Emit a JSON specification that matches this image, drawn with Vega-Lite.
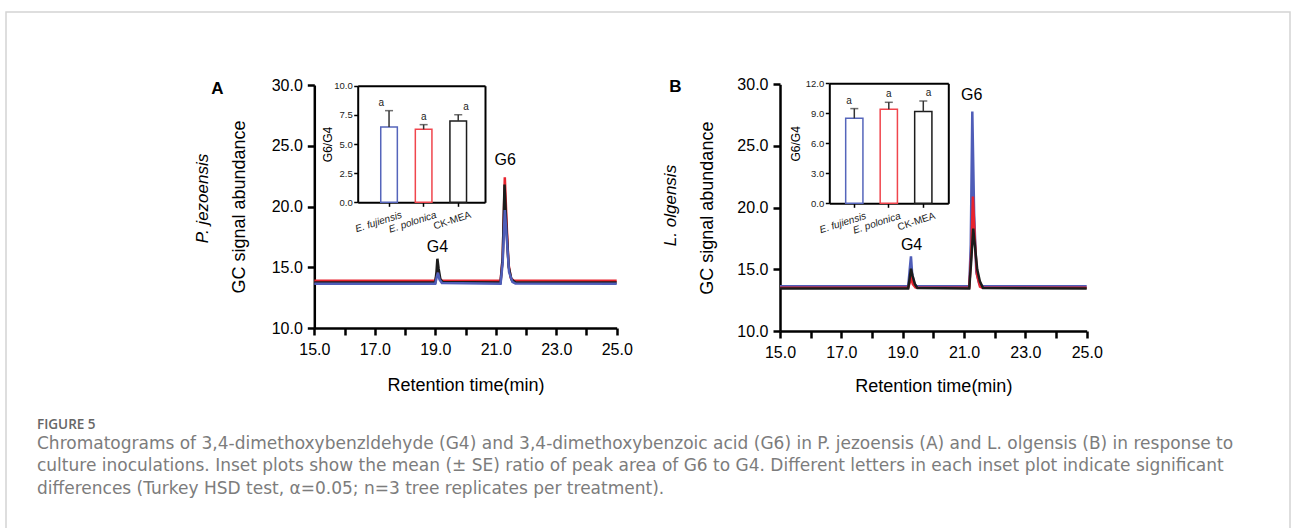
{
  "$schema": "https://vega.github.io/schema/vega-lite/v6.json",
  "width": 1284,
  "height": 530,
  "autosize": {"type": "none"},
  "padding": {"left": 6, "top": 12, "right": 2, "bottom": 0},
  "config": {
    "font": "Liberation Sans",
    "view": {"stroke": "#d4d4d4", "strokeWidth": 1.5},
    "axis": {"grid": false, "labelColor": "#000", "titleColor": "#000", "domainColor": "#000", "tickColor": "#000", "titleFontWeight": "normal", "labelFlush": false, "labelOverlap": false, "titleFont": "Liberation Sans", "labelFont": "Liberation Sans"}
  },
  "title": {
    "text": "FIGURE 5",
    "subtitle": [
      "Chromatograms of 3,4-dimethoxybenzldehyde (G4) and 3,4-dimethoxybenzoic acid (G6) in P. jezoensis (A) and L. olgensis (B) in response to",
      "culture inoculations. Inset plots show the mean (± SE) ratio of peak area of G6 to G4. Different letters in each inset plot indicate significant",
      "differences (Turkey HSD test, α=0.05; n=3 tree replicates per treatment)."
    ],
    "orient": "bottom", "anchor": "start", "frame": "group", "offset": -124, "dx": 31,
    "font": "Open Sans", "fontSize": 13.5, "fontWeight": 600, "color": "#666",
    "subtitleFont": "DejaVu Sans", "subtitleFontSize": 17, "subtitleColor": "#7c7c7c", "subtitleLineHeight": 22.5, "subtitlePadding": 4
  },
  "datasets": {
    "chrom": [
      {"panel": "A", "treatment": "E. polonica", "time": 15.0, "signal": 13.88},
      {"panel": "A", "treatment": "E. polonica", "time": 19.0, "signal": 13.88},
      {"panel": "A", "treatment": "E. polonica", "time": 19.04, "signal": 14.3},
      {"panel": "A", "treatment": "E. polonica", "time": 19.08, "signal": 14.75},
      {"panel": "A", "treatment": "E. polonica", "time": 19.12, "signal": 14.2},
      {"panel": "A", "treatment": "E. polonica", "time": 19.2, "signal": 13.9},
      {"panel": "A", "treatment": "E. polonica", "time": 21.16, "signal": 13.88},
      {"panel": "A", "treatment": "E. polonica", "time": 21.23, "signal": 15.8},
      {"panel": "A", "treatment": "E. polonica", "time": 21.3, "signal": 22.4},
      {"panel": "A", "treatment": "E. polonica", "time": 21.36, "signal": 18.6},
      {"panel": "A", "treatment": "E. polonica", "time": 21.42, "signal": 15.3},
      {"panel": "A", "treatment": "E. polonica", "time": 21.5, "signal": 14.1},
      {"panel": "A", "treatment": "E. polonica", "time": 21.6, "signal": 13.9},
      {"panel": "A", "treatment": "E. polonica", "time": 25.0, "signal": 13.88},
      {"panel": "A", "treatment": "CK-MEA", "time": 15.0, "signal": 13.75},
      {"panel": "A", "treatment": "CK-MEA", "time": 19.0, "signal": 13.75},
      {"panel": "A", "treatment": "CK-MEA", "time": 19.04, "signal": 14.6},
      {"panel": "A", "treatment": "CK-MEA", "time": 19.07, "signal": 15.7},
      {"panel": "A", "treatment": "CK-MEA", "time": 19.11, "signal": 14.9},
      {"panel": "A", "treatment": "CK-MEA", "time": 19.17, "signal": 14.0},
      {"panel": "A", "treatment": "CK-MEA", "time": 19.25, "signal": 13.78},
      {"panel": "A", "treatment": "CK-MEA", "time": 21.16, "signal": 13.75},
      {"panel": "A", "treatment": "CK-MEA", "time": 21.23, "signal": 15.8},
      {"panel": "A", "treatment": "CK-MEA", "time": 21.29, "signal": 21.8},
      {"panel": "A", "treatment": "CK-MEA", "time": 21.36, "signal": 18.0},
      {"panel": "A", "treatment": "CK-MEA", "time": 21.43, "signal": 15.0},
      {"panel": "A", "treatment": "CK-MEA", "time": 21.52, "signal": 14.0},
      {"panel": "A", "treatment": "CK-MEA", "time": 21.65, "signal": 13.77},
      {"panel": "A", "treatment": "CK-MEA", "time": 25.0, "signal": 13.75},
      {"panel": "A", "treatment": "E. fujiensis", "time": 15.0, "signal": 13.65},
      {"panel": "A", "treatment": "E. fujiensis", "time": 19.0, "signal": 13.65},
      {"panel": "A", "treatment": "E. fujiensis", "time": 19.05, "signal": 14.2},
      {"panel": "A", "treatment": "E. fujiensis", "time": 19.09, "signal": 14.55},
      {"panel": "A", "treatment": "E. fujiensis", "time": 19.14, "signal": 14.0},
      {"panel": "A", "treatment": "E. fujiensis", "time": 19.22, "signal": 13.7},
      {"panel": "A", "treatment": "E. fujiensis", "time": 21.16, "signal": 13.65},
      {"panel": "A", "treatment": "E. fujiensis", "time": 21.23, "signal": 15.4},
      {"panel": "A", "treatment": "E. fujiensis", "time": 21.3, "signal": 19.7},
      {"panel": "A", "treatment": "E. fujiensis", "time": 21.37, "signal": 17.2},
      {"panel": "A", "treatment": "E. fujiensis", "time": 21.44, "signal": 14.6},
      {"panel": "A", "treatment": "E. fujiensis", "time": 21.55, "signal": 13.8},
      {"panel": "A", "treatment": "E. fujiensis", "time": 21.65, "signal": 13.66},
      {"panel": "A", "treatment": "E. fujiensis", "time": 25.0, "signal": 13.65},
      {"panel": "B", "treatment": "E. fujiensis", "time": 15.0, "signal": 13.62},
      {"panel": "B", "treatment": "E. fujiensis", "time": 19.18, "signal": 13.62},
      {"panel": "B", "treatment": "E. fujiensis", "time": 19.23, "signal": 15.0},
      {"panel": "B", "treatment": "E. fujiensis", "time": 19.27, "signal": 16.05},
      {"panel": "B", "treatment": "E. fujiensis", "time": 19.31, "signal": 14.6},
      {"panel": "B", "treatment": "E. fujiensis", "time": 19.38, "signal": 13.8},
      {"panel": "B", "treatment": "E. fujiensis", "time": 19.46, "signal": 13.64},
      {"panel": "B", "treatment": "E. fujiensis", "time": 21.17, "signal": 13.62},
      {"panel": "B", "treatment": "E. fujiensis", "time": 21.22, "signal": 17.0},
      {"panel": "B", "treatment": "E. fujiensis", "time": 21.27, "signal": 27.8},
      {"panel": "B", "treatment": "E. fujiensis", "time": 21.33, "signal": 19.5},
      {"panel": "B", "treatment": "E. fujiensis", "time": 21.4, "signal": 14.8},
      {"panel": "B", "treatment": "E. fujiensis", "time": 21.5, "signal": 13.8},
      {"panel": "B", "treatment": "E. fujiensis", "time": 21.6, "signal": 13.64},
      {"panel": "B", "treatment": "E. fujiensis", "time": 25.0, "signal": 13.62},
      {"panel": "B", "treatment": "E. polonica", "time": 15.0, "signal": 13.5},
      {"panel": "B", "treatment": "E. polonica", "time": 19.18, "signal": 13.5},
      {"panel": "B", "treatment": "E. polonica", "time": 19.24, "signal": 14.0},
      {"panel": "B", "treatment": "E. polonica", "time": 19.28, "signal": 14.3},
      {"panel": "B", "treatment": "E. polonica", "time": 19.33, "signal": 13.8},
      {"panel": "B", "treatment": "E. polonica", "time": 19.42, "signal": 13.52},
      {"panel": "B", "treatment": "E. polonica", "time": 21.17, "signal": 13.5},
      {"panel": "B", "treatment": "E. polonica", "time": 21.23, "signal": 16.0},
      {"panel": "B", "treatment": "E. polonica", "time": 21.29, "signal": 20.9},
      {"panel": "B", "treatment": "E. polonica", "time": 21.35, "signal": 17.5},
      {"panel": "B", "treatment": "E. polonica", "time": 21.42, "signal": 14.6},
      {"panel": "B", "treatment": "E. polonica", "time": 21.52, "signal": 13.6},
      {"panel": "B", "treatment": "E. polonica", "time": 21.6, "signal": 13.5},
      {"panel": "B", "treatment": "E. polonica", "time": 25.0, "signal": 13.5},
      {"panel": "B", "treatment": "CK-MEA", "time": 15.0, "signal": 13.45},
      {"panel": "B", "treatment": "CK-MEA", "time": 19.18, "signal": 13.45},
      {"panel": "B", "treatment": "CK-MEA", "time": 19.23, "signal": 14.3},
      {"panel": "B", "treatment": "CK-MEA", "time": 19.27, "signal": 15.05},
      {"panel": "B", "treatment": "CK-MEA", "time": 19.32, "signal": 14.5},
      {"panel": "B", "treatment": "CK-MEA", "time": 19.4, "signal": 13.8},
      {"panel": "B", "treatment": "CK-MEA", "time": 19.48, "signal": 13.48},
      {"panel": "B", "treatment": "CK-MEA", "time": 21.17, "signal": 13.45},
      {"panel": "B", "treatment": "CK-MEA", "time": 21.23, "signal": 15.5},
      {"panel": "B", "treatment": "CK-MEA", "time": 21.3, "signal": 18.3},
      {"panel": "B", "treatment": "CK-MEA", "time": 21.36, "signal": 16.8},
      {"panel": "B", "treatment": "CK-MEA", "time": 21.43, "signal": 15.0},
      {"panel": "B", "treatment": "CK-MEA", "time": 21.52, "signal": 14.0},
      {"panel": "B", "treatment": "CK-MEA", "time": 21.62, "signal": 13.48},
      {"panel": "B", "treatment": "CK-MEA", "time": 25.0, "signal": 13.45}
    ],
    "peaks": [
      {"panel": "A", "peak": "G4", "time": 19.07, "signal": 16.7},
      {"panel": "A", "peak": "G6", "time": 21.31, "signal": 23.8},
      {"panel": "B", "peak": "G4", "time": 19.29, "signal": 17.0},
      {"panel": "B", "peak": "G6", "time": 21.25, "signal": 29.1}
    ],
    "ratio": [
      {"panel": "A", "treatment": "E. fujiensis", "mean": 6.45, "upper": 7.86, "letter": "a"},
      {"panel": "A", "treatment": "E. polonica", "mean": 6.26, "upper": 6.66, "letter": "a"},
      {"panel": "A", "treatment": "CK-MEA", "mean": 6.97, "upper": 7.51, "letter": "a"},
      {"panel": "B", "treatment": "E. fujiensis", "mean": 8.5, "upper": 9.47, "letter": "a"},
      {"panel": "B", "treatment": "E. polonica", "mean": 9.4, "upper": 10.1, "letter": "a"},
      {"panel": "B", "treatment": "CK-MEA", "mean": 9.17, "upper": 10.23, "letter": "a"}
    ]
  },
  "layer": [
    {
      "data": {"name": "chrom"},
      "transform": [{"filter": "datum.panel === 'A' && datum.treatment === 'E. polonica'"}],
      "mark": {"type": "line", "strokeWidth": 2.5},
      "encoding": {
        "x": {"field": "time", "type": "quantitative",
          "scale": {"domain": [15, 25], "range": [308.3, 610.7], "nice": false, "zero": false},
          "axis": {"orient": "bottom", "offset": -214, "values": [15, 16, 17, 18, 19, 20, 21, 22, 23, 24, 25],
            "labelExpr": "datum.value % 2 === 1 ? format(datum.value, '.1f') : ''",
            "labelFontSize": 16, "tickSize": 7, "tickWidth": 2.5, "domainWidth": 2.5, "labelPadding": 6,
            "title": "Retention time(min)", "titleFontSize": 18, "titleY": 57, "titleBaseline": "middle"}},
        "y": {"field": "signal", "type": "quantitative",
          "scale": {"domain": [10, 30], "range": [316, 73], "nice": false, "zero": false},
          "axis": {"orient": "left", "offset": -308.3, "values": [10, 15, 20, 25, 30], "format": ".1f",
            "labelFontSize": 16, "tickSize": 7, "tickWidth": 2.5, "domainWidth": 2.5, "labelPadding": 5,
            "title": "GC signal abundance", "titleFontSize": 18, "titleX": -75, "titleBaseline": "middle"}},
        "color": {"field": "treatment", "type": "nominal", "legend": null,
          "scale": {"domain": ["E. fujiensis", "E. polonica", "CK-MEA"], "range": ["#4f5db8", "#e8232e", "#1c1c1c"]}}
      }
    },
    {
      "data": {"name": "chrom"},
      "transform": [{"filter": "datum.panel === 'A' && datum.treatment === 'CK-MEA'"}],
      "mark": {"type": "line", "strokeWidth": 2.5},
      "encoding": {
        "x": {"field": "time", "type": "quantitative", "axis": null,
          "scale": {"domain": [15, 25], "range": [308.3, 610.7], "nice": false, "zero": false}},
        "y": {"field": "signal", "type": "quantitative", "axis": null,
          "scale": {"domain": [10, 30], "range": [316, 73], "nice": false, "zero": false}},
        "color": {"field": "treatment", "type": "nominal", "legend": null}
      }
    },
    {
      "data": {"name": "chrom"},
      "transform": [{"filter": "datum.panel === 'A' && datum.treatment === 'E. fujiensis'"}],
      "mark": {"type": "line", "strokeWidth": 2.5},
      "encoding": {
        "x": {"field": "time", "type": "quantitative", "axis": null,
          "scale": {"domain": [15, 25], "range": [308.3, 610.7], "nice": false, "zero": false}},
        "y": {"field": "signal", "type": "quantitative", "axis": null,
          "scale": {"domain": [10, 30], "range": [316, 73], "nice": false, "zero": false}},
        "color": {"field": "treatment", "type": "nominal", "legend": null}
      }
    },
    {
      "data": {"name": "peaks"},
      "transform": [{"filter": "datum.panel === 'A'"}],
      "mark": {"type": "text", "fontSize": 16, "baseline": "middle", "align": "center", "color": "#000"},
      "encoding": {
        "x": {"field": "time", "type": "quantitative",
          "scale": {"domain": [15, 25], "range": [308.3, 610.7], "nice": false, "zero": false},
          "axis": {"orient": "top", "offset": 0, "domain": false, "ticks": false, "labels": false,
            "title": "A", "titleFontSize": 17, "titleFontWeight": "bold", "titleX": 211, "titleY": 76,
            "titleBaseline": "middle", "titleAlign": "center", "titleAngle": 0}},
        "y": {"field": "signal", "type": "quantitative",
          "scale": {"domain": [10, 30], "range": [316, 73], "nice": false, "zero": false},
          "axis": {"orient": "left", "offset": -308.3, "domain": false, "ticks": false, "labels": false,
            "title": "P. jezoensis", "titleFontStyle": "italic", "titleFontSize": 17, "titleX": -111.3, "titleY": 186,
            "titleBaseline": "middle", "titleAlign": "center"}},
        "text": {"field": "peak"}
      }
    },
    {
      "data": {"name": "ratio"},
      "transform": [{"filter": "datum.panel === 'A'"}],
      "mark": {"type": "bar", "fill": "white", "strokeWidth": 1.5},
      "encoding": {
        "x": {"field": "treatment", "type": "nominal", "sort": null,
          "scale": {"domain": ["E. fujiensis", "E. polonica", "CK-MEA"], "range": [351.7, 479], "paddingInner": 0.52, "paddingOuter": 0.6, "align": 0.555},
          "axis": {"orient": "bottom", "offset": -339.7, "title": null, "labelAngle": -18, "labelFontSize": 10, "labelOffset": 11,
            "labelFontStyle": {"condition": {"test": "datum.value === 'CK-MEA'", "value": "normal"}, "value": "italic"},
            "tickSize": 4, "tickWidth": 1.5, "domainWidth": 2, "labelPadding": 3, "labelColor": "#222"}},
        "y": {"field": "mean", "type": "quantitative",
          "scale": {"domain": [0, 10], "range": [190.3, 73.7], "nice": false, "zero": true},
          "axis": {"orient": "left", "offset": -351.7, "values": [0, 2.5, 5, 7.5, 10], "format": ".1f",
            "labelFontSize": 9.5, "tickSize": 4, "tickWidth": 1.5, "domainWidth": 2, "labelPadding": 1.5, "labelColor": "#222",
            "title": "G6/G4", "titleFontSize": 12, "titleX": -30, "titleBaseline": "middle"}},
        "stroke": {"field": "treatment", "type": "nominal", "legend": null,
          "scale": {"domain": ["E. fujiensis", "E. polonica", "CK-MEA"], "range": ["#5565bb", "#f0454d", "#1c1c1c"]}}
      }
    },
    {
      "data": {"name": "ratio"},
      "transform": [{"filter": "datum.panel === 'A'"}],
      "mark": {"type": "rule", "color": "#333", "strokeWidth": 1.5},
      "encoding": {
        "x": {"field": "treatment", "type": "nominal", "sort": null, "axis": null,
          "scale": {"domain": ["E. fujiensis", "E. polonica", "CK-MEA"], "range": [351.7, 479], "paddingInner": 0.52, "paddingOuter": 0.6, "align": 0.555}},
        "y": {"field": "mean", "type": "quantitative", "axis": null,
          "scale": {"domain": [0, 10], "range": [190.3, 73.7], "nice": false, "zero": true}},
        "y2": {"field": "upper"}
      }
    },
    {
      "data": {"name": "ratio"},
      "transform": [{"filter": "datum.panel === 'A'"}],
      "mark": {"type": "tick", "color": "#333", "thickness": 1.5, "size": 8},
      "encoding": {
        "x": {"field": "treatment", "type": "nominal", "sort": null, "axis": null,
          "scale": {"domain": ["E. fujiensis", "E. polonica", "CK-MEA"], "range": [351.7, 479], "paddingInner": 0.52, "paddingOuter": 0.6, "align": 0.555}},
        "y": {"field": "upper", "type": "quantitative", "axis": null,
          "scale": {"domain": [0, 10], "range": [190.3, 73.7], "nice": false, "zero": true}}
      }
    },
    {
      "data": {"name": "ratio"},
      "transform": [{"filter": "datum.panel === 'A'"}],
      "mark": {"type": "text", "fontSize": 10, "baseline": "middle", "dy": -8, "color": "#222"},
      "encoding": {
        "x": {"field": "treatment", "type": "nominal", "sort": null,
          "scale": {"domain": ["E. fujiensis", "E. polonica", "CK-MEA"], "range": [351.7, 479], "paddingInner": 0.52, "paddingOuter": 0.6, "align": 0.555},
          "axis": {"orient": "top", "offset": -73.7, "domainWidth": 2, "ticks": false, "labels": false, "title": null}},
        "y": {"field": "upper", "type": "quantitative",
          "scale": {"domain": [0, 10], "range": [190.3, 73.7], "nice": false, "zero": true},
          "axis": {"orient": "right", "offset": -805, "domainWidth": 2, "ticks": false, "labels": false, "title": null}},
        "text": {"field": "letter"}
      }
    },
    {
      "data": {"name": "chrom"},
      "transform": [{"filter": "datum.panel === 'B' && datum.treatment === 'E. fujiensis'"}],
      "mark": {"type": "line", "strokeWidth": 2.5},
      "encoding": {
        "x": {"field": "time", "type": "quantitative",
          "scale": {"domain": [15, 25], "range": [774, 1080.7], "nice": false, "zero": false},
          "axis": {"orient": "bottom", "offset": -211, "values": [15, 16, 17, 18, 19, 20, 21, 22, 23, 24, 25],
            "labelExpr": "datum.value % 2 === 1 ? format(datum.value, '.1f') : ''",
            "labelFontSize": 16, "tickSize": 7, "tickWidth": 2.5, "domainWidth": 2.5, "labelPadding": 6,
            "title": "Retention time(min)", "titleFontSize": 18, "titleY": 55.7, "titleBaseline": "middle"}},
        "y": {"field": "signal", "type": "quantitative",
          "scale": {"domain": [10, 30], "range": [319, 72.3], "nice": false, "zero": false},
          "axis": {"orient": "left", "offset": -774, "values": [10, 15, 20, 25, 30], "format": ".1f",
            "labelFontSize": 16, "tickSize": 7, "tickWidth": 2.5, "domainWidth": 2.5, "labelPadding": 5,
            "title": "GC signal abundance", "titleFontSize": 18, "titleX": -72.5, "titleBaseline": "middle"}},
        "color": {"field": "treatment", "type": "nominal", "legend": null}
      }
    },
    {
      "data": {"name": "chrom"},
      "transform": [{"filter": "datum.panel === 'B' && datum.treatment === 'E. polonica'"}],
      "mark": {"type": "line", "strokeWidth": 2.5},
      "encoding": {
        "x": {"field": "time", "type": "quantitative", "axis": null,
          "scale": {"domain": [15, 25], "range": [774, 1080.7], "nice": false, "zero": false}},
        "y": {"field": "signal", "type": "quantitative", "axis": null,
          "scale": {"domain": [10, 30], "range": [319, 72.3], "nice": false, "zero": false}},
        "color": {"field": "treatment", "type": "nominal", "legend": null}
      }
    },
    {
      "data": {"name": "chrom"},
      "transform": [{"filter": "datum.panel === 'B' && datum.treatment === 'CK-MEA'"}],
      "mark": {"type": "line", "strokeWidth": 2.5},
      "encoding": {
        "x": {"field": "time", "type": "quantitative", "axis": null,
          "scale": {"domain": [15, 25], "range": [774, 1080.7], "nice": false, "zero": false}},
        "y": {"field": "signal", "type": "quantitative", "axis": null,
          "scale": {"domain": [10, 30], "range": [319, 72.3], "nice": false, "zero": false}},
        "color": {"field": "treatment", "type": "nominal", "legend": null}
      }
    },
    {
      "data": {"name": "peaks"},
      "transform": [{"filter": "datum.panel === 'B'"}],
      "mark": {"type": "text", "fontSize": 16, "baseline": "middle", "align": "center", "color": "#000"},
      "encoding": {
        "x": {"field": "time", "type": "quantitative",
          "scale": {"domain": [15, 25], "range": [774, 1080.7], "nice": false, "zero": false},
          "axis": {"orient": "top", "offset": 0, "domain": false, "ticks": false, "labels": false,
            "title": "B", "titleFontSize": 17, "titleFontWeight": "bold", "titleX": 669, "titleY": 74.7,
            "titleBaseline": "middle", "titleAlign": "center", "titleAngle": 0}},
        "y": {"field": "signal", "type": "quantitative",
          "scale": {"domain": [10, 30], "range": [319, 72.3], "nice": false, "zero": false},
          "axis": {"orient": "left", "offset": -774, "domain": false, "ticks": false, "labels": false,
            "title": "L. olgensis", "titleFontStyle": "italic", "titleFontSize": 17, "titleX": -110, "titleY": 193,
            "titleBaseline": "middle", "titleAlign": "center"}},
        "text": {"field": "peak"}
      }
    },
    {
      "data": {"name": "ratio"},
      "transform": [{"filter": "datum.panel === 'B'"}],
      "mark": {"type": "bar", "fill": "white", "strokeWidth": 1.5},
      "encoding": {
        "x": {"field": "treatment", "type": "nominal", "sort": null,
          "scale": {"domain": ["E. fujiensis", "E. polonica", "CK-MEA"], "range": [823.3, 942.3], "paddingInner": 0.5, "paddingOuter": 0.475},
          "axis": {"orient": "bottom", "offset": -338.7, "title": null, "labelAngle": -18, "labelFontSize": 10, "labelOffset": 10,
            "labelFontStyle": {"condition": {"test": "datum.value === 'CK-MEA'", "value": "normal"}, "value": "italic"},
            "tickSize": 4, "tickWidth": 1.5, "domainWidth": 2, "labelPadding": 3, "labelColor": "#222"}},
        "y": {"field": "mean", "type": "quantitative",
          "scale": {"domain": [0, 12], "range": [191.3, 71.3], "nice": false, "zero": true},
          "axis": {"orient": "left", "offset": -823.3, "values": [0, 3, 6, 9, 12], "format": ".1f",
            "labelFontSize": 9.5, "tickSize": 4, "tickWidth": 1.5, "domainWidth": 2, "labelPadding": 1.5, "labelColor": "#222",
            "title": "G6/G4", "titleFontSize": 12, "titleX": -34.3, "titleBaseline": "middle"}},
        "stroke": {"field": "treatment", "type": "nominal", "legend": null}
      }
    },
    {
      "data": {"name": "ratio"},
      "transform": [{"filter": "datum.panel === 'B'"}],
      "mark": {"type": "rule", "color": "#333", "strokeWidth": 1.5},
      "encoding": {
        "x": {"field": "treatment", "type": "nominal", "sort": null, "axis": null,
          "scale": {"domain": ["E. fujiensis", "E. polonica", "CK-MEA"], "range": [823.3, 942.3], "paddingInner": 0.5, "paddingOuter": 0.475}},
        "y": {"field": "mean", "type": "quantitative", "axis": null,
          "scale": {"domain": [0, 12], "range": [191.3, 71.3], "nice": false, "zero": true}},
        "y2": {"field": "upper"}
      }
    },
    {
      "data": {"name": "ratio"},
      "transform": [{"filter": "datum.panel === 'B'"}],
      "mark": {"type": "tick", "color": "#333", "thickness": 1.5, "size": 8},
      "encoding": {
        "x": {"field": "treatment", "type": "nominal", "sort": null, "axis": null,
          "scale": {"domain": ["E. fujiensis", "E. polonica", "CK-MEA"], "range": [823.3, 942.3], "paddingInner": 0.5, "paddingOuter": 0.475}},
        "y": {"field": "upper", "type": "quantitative", "axis": null,
          "scale": {"domain": [0, 12], "range": [191.3, 71.3], "nice": false, "zero": true}}
      }
    },
    {
      "data": {"name": "ratio"},
      "transform": [{"filter": "datum.panel === 'B'"}],
      "mark": {"type": "text", "fontSize": 10, "baseline": "middle", "dy": -8, "color": "#222"},
      "encoding": {
        "x": {"field": "treatment", "type": "nominal", "sort": null,
          "scale": {"domain": ["E. fujiensis", "E. polonica", "CK-MEA"], "range": [823.3, 942.3], "paddingInner": 0.5, "paddingOuter": 0.475},
          "axis": {"orient": "top", "offset": -71.3, "domainWidth": 2, "ticks": false, "labels": false, "title": null}},
        "y": {"field": "upper", "type": "quantitative",
          "scale": {"domain": [0, 12], "range": [191.3, 71.3], "nice": false, "zero": true},
          "axis": {"orient": "right", "offset": -341.7, "domainWidth": 2, "ticks": false, "labels": false, "title": null}},
        "text": {"field": "letter"}
      }
    }
  ],
  "resolve": {
    "scale": {"x": "independent", "y": "independent"},
    "axis": {"x": "independent", "y": "independent"}
  }
}
